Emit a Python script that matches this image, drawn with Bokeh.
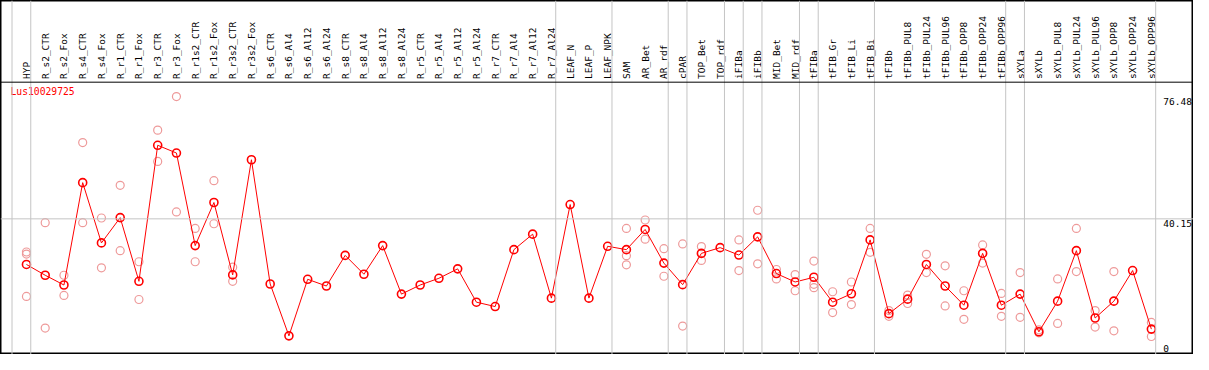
import math
import numpy as np
from bokeh.plotting import figure
from bokeh.models import Span, Range1d, ColumnDataSource
from bokeh.core.properties import value
from bokeh.embed import file_html
from bokeh.resources import INLINE

NaN = float("nan")

gene_name = "Lus10029725"

categories = [
    "HYP", "R_s2_CTR", "R_s2_Fox", "R_s4_CTR", "R_s4_Fox", "R_r1_CTR", "R_r1_Fox",
    "R_r3_CTR", "R_r3_Fox", "R_r1s2_CTR", "R_r1s2_Fox", "R_r3s2_CTR", "R_r3s2_Fox",
    "R_s6_CTR", "R_s6_Al4", "R_s6_Al12", "R_s6_Al24", "R_s8_CTR", "R_s8_Al4",
    "R_s8_Al12", "R_s8_Al24", "R_r5_CTR", "R_r5_Al4", "R_r5_Al12", "R_r5_Al24",
    "R_r7_CTR", "R_r7_Al4", "R_r7_Al12", "R_r7_Al24", "LEAF_N", "LEAF_P", "LEAF_NPK",
    "SAM", "AR_Bet", "AR_rdf", "cPAR", "TOP_Bet", "TOP_rdf", "iFIBa", "iFIBb",
    "MID_Bet", "MID_rdf", "tFIBa", "tFIB_Gr", "tFIB_Li", "tFIB_Bi", "tFIBb",
    "tFIBb_PUL8", "tFIBb_PUL24", "tFIBb_PUL96", "tFIBb_OPP8", "tFIBb_OPP24", "tFIBb_OPP96",
    "sXYLa", "sXYLb", "sXYLb_PUL8", "sXYLb_PUL24", "sXYLb_PUL96", "sXYLb_OPP8",
    "sXYLb_OPP24", "sXYLb_OPP96",
]

# number of consecutive categories in each group (separated by grey lines)
group_sizes = [1, 28, 3, 3, 1, 2, 1, 1, 2, 1, 3, 7, 1, 7]

means = [
    26.6, 23.4, 20.5, 50.9, 33.0, 40.5, 21.6, 62.0, 59.7, 32.2, 45.0, 23.5, 57.7, 20.8, 5.4,
    22.2, 20.2, 29.3, 23.7, 32.2, 17.8, 20.5, 22.5, 25.3, 15.4, 14.1, 31.0, 35.6, 16.6,
    44.4, 16.6, 32.0,
    31.0, 37.0, 27.0, 20.6, 29.9, 31.6, 29.4, 34.8, 23.9, 21.4, 22.8, 15.4, 17.9, 33.9, 12.0,
    16.3, 26.6, 20.2, 14.5, 29.9, 14.5, 17.8, 6.6, 15.7, 30.7, 10.7, 15.7, 24.8, 7.4,
]

replicate_a = [
    30.3, 39.0, 23.4, 62.8, 40.4, 50.1, 27.4, 66.5, 76.48, 37.3, 51.5, 25.8, NaN, NaN, NaN,
    NaN, NaN, NaN, NaN, NaN, NaN, NaN, NaN, NaN, NaN, NaN, NaN, NaN, NaN,
    NaN, NaN, NaN,
    37.3, 39.8, 31.3, 32.7, 31.9, NaN, 33.9, 42.7, 25.1, 23.6, 27.6, 18.5, 21.4, 37.3, 12.9,
    17.5, 29.6, 26.2, 18.8, 32.4, 18.0, 24.2, 7.2, 22.3, 37.3, 12.9, 24.5, NaN, 9.4,
]

replicate_b = [
    17.1, 7.7, 17.4, 39.0, 25.6, 30.7, 16.2, 57.2, 42.2, 27.4, 38.7, 21.6, NaN, NaN, NaN,
    NaN, NaN, NaN, NaN, NaN, NaN, NaN, NaN, NaN, NaN, NaN, NaN, NaN, NaN,
    NaN, NaN, NaN,
    26.5, 34.1, 23.1, 8.3, 27.8, NaN, 24.8, 26.8, 22.3, 18.8, 19.7, 12.3, 14.7, 30.2, 11.2,
    15.0, 24.2, 14.3, 10.3, 27.0, 11.2, 10.9, 6.3, 9.1, 24.5, 8.0, 6.9, NaN, 5.2,
]

replicate_c = [
    29.7, NaN, NaN, NaN, NaN, NaN, NaN, NaN, NaN, NaN, NaN, NaN, NaN, NaN, NaN,
    NaN, NaN, NaN, NaN, NaN, NaN, NaN, NaN, NaN, NaN, NaN, NaN, NaN, NaN,
    NaN, NaN, NaN,
    29.2, NaN, NaN, NaN, NaN, NaN, NaN, NaN, NaN, NaN, 20.7, NaN, NaN, NaN, NaN,
    NaN, NaN, NaN, NaN, NaN, NaN, NaN, NaN, NaN, NaN, NaN, NaN, NaN, NaN,
]

tick_values = [0, 40.15, 76.48]
tick_labels = ["0", "40.15", "76.48"]

# ---------------------------------------------------------------- layout
W, H = 1193, 354
FONT = value("DejaVu Sans Mono")
idx = list(range(len(categories)))

p = figure(width=W, height=H, output_backend="svg", toolbar_location=None,
           x_range=Range1d(-1.384, 62.247), y_range=Range1d(-0.14, 105.0),
           min_border=0, min_border_left=0, min_border_right=0,
           min_border_top=0, min_border_bottom=0)
p.axis.visible = False
p.xgrid.visible = False
p.ygrid.visible = False
p.outline_line_color = "black"
p.outline_line_width = 2
p.background_fill_color = "white"
p.border_fill_color = "white"

# group separators
bounds = [-1 + 0.23]
acc = 0
for g in group_sizes:
    acc += g
    bounds.append(acc - 1 + 0.23)
for b in bounds:
    p.add_layout(Span(location=b, dimension="height", line_color="#c4c4c4", line_width=1))

# middle grid line
p.add_layout(Span(location=tick_values[1], dimension="width", line_color="#c4c4c4", line_width=1))

# header separator
HEADER_Y = 80.74
p.add_layout(Span(location=HEADER_Y, dimension="width", line_color="black", line_width=1))

# header labels
p.text(x=idx, y=[HEADER_Y + 0.95] * len(idx), text=categories, angle=math.pi / 2,
       text_align="left", text_baseline="middle", text_font=FONT,
       text_font_size="9.5px", text_color="black")

# gene name
p.text(x=[-0.85], y=[HEADER_Y - 1.2], text=[gene_name], text_align="left",
       text_baseline="top", text_font=FONT, text_font_size="9.7px", text_color="red")

# value labels (right)
lab_x = 60.64
p.text(x=[lab_x], y=[tick_values[0]], text=[tick_labels[0]], text_align="left",
       text_baseline="bottom", y_offset=-2, text_font=FONT, text_font_size="9.5px",
       text_color="black")
p.text(x=[lab_x, lab_x], y=tick_values[1:], text=tick_labels[1:], text_align="left",
       text_baseline="top", y_offset=1, text_font=FONT, text_font_size="9.5px",
       text_color="black")

# replicates
for rep in (replicate_a, replicate_b, replicate_c):
    src = ColumnDataSource(dict(x=idx, y=rep))
    p.scatter("x", "y", source=src, marker="circle", size=8, line_color="#ee9a9a",
              line_width=1.2, fill_alpha=0)

# mean line + markers
msrc = ColumnDataSource(dict(x=idx, y=means))
p.line("x", "y", source=msrc, line_color="red", line_width=1)
p.scatter("x", "y", source=msrc, marker="circle", size=8, line_color="red",
          line_width=1.6, fill_alpha=0)

open("out.html", "w").write(file_html(p, INLINE))
